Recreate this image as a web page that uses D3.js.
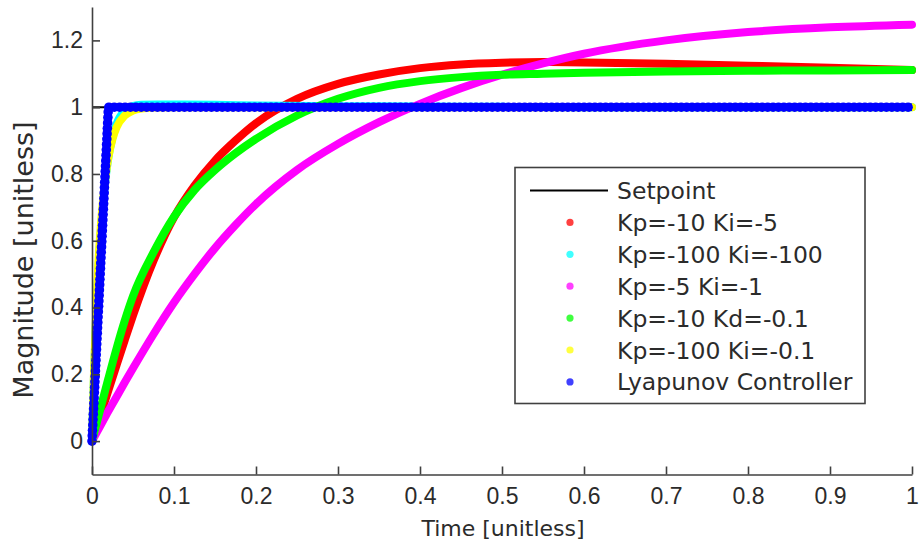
<!DOCTYPE html>
<html>
<head>
<meta charset="utf-8">
<script src="https://cdn.jsdelivr.net/npm/d3@7"></script>
<style>
  html, body { margin: 0; padding: 0; background: #fff; }
  svg { display: block; }
</style>
</head>
<body>
<svg id="chart" width="922" height="547"></svg>
<script>
// ---------------- DATA ----------------
const xTicks = [0, 0.1, 0.2, 0.3, 0.4, 0.5, 0.6, 0.7, 0.8, 0.9, 1];
const yTicks = [0, 0.2, 0.4, 0.6, 0.8, 1, 1.2];

const seriesNames = ["Setpoint", "Kp=-10 Ki=-5", "Kp=-100 Ki=-100", "Kp=-5 Ki=-1",
                     "Kp=-10 Kd=-0.1", "Kp=-100 Ki=-0.1", "Lyapunov Controller"];
const seriesColors = ["#000000", "#ff0000", "#00ffff", "#ff00ff", "#00ff00", "#ffff00", "#0000ff"];

// slow responses, common time grid
const tSlow = [0, 0.01, 0.02, 0.03, 0.04, 0.05, 0.075, 0.1, 0.125, 0.15, 0.175, 0.2,
               0.25, 0.3, 0.35, 0.4, 0.45, 0.5, 0.55, 0.6, 0.7, 0.8, 0.9, 1.0];
const redVals = [0, 0.075, 0.152, 0.228, 0.303, 0.376, 0.54, 0.67, 0.765, 0.84, 0.9, 0.952,
                 1.025, 1.07, 1.098, 1.117, 1.128, 1.133, 1.135, 1.134, 1.13, 1.124, 1.118, 1.111];
const magentaVals = [0, 0.045, 0.09, 0.133, 0.176, 0.218, 0.32, 0.415, 0.5, 0.578, 0.647, 0.71,
                     0.812, 0.89, 0.955, 1.01, 1.057, 1.097, 1.131, 1.16, 1.2, 1.225, 1.239, 1.247];
const greenVals = [0, 0.095, 0.188, 0.278, 0.361, 0.434, 0.565, 0.672, 0.752, 0.812, 0.862, 0.905,
                   0.975, 1.025, 1.058, 1.078, 1.09, 1.097, 1.1, 1.103, 1.107, 1.109, 1.11, 1.111];

// fast responses, finer time grid near zero
const tFast = [0, 0.0025, 0.005, 0.0075, 0.01, 0.015, 0.02, 0.025, 0.03, 0.04, 0.05, 0.06,
               0.08, 0.1, 0.15, 0.2, 0.3, 0.4, 0.5, 0.6, 0.7, 0.8, 0.9, 1.0];
const cyanVals = [0, 0.2, 0.37, 0.5, 0.6, 0.75, 0.85, 0.91, 0.95, 0.99, 1.003, 1.007,
                  1.008, 1.008, 1.007, 1.005, 1.003, 1.002, 1.001, 1.0, 1.0, 1.0, 1.0, 1.0];
const yellowVals = [0, 0.21, 0.38, 0.52, 0.62, 0.76, 0.85, 0.905, 0.94, 0.975, 0.99, 0.996,
                    0.999, 1.0, 1.0, 1.0, 1.0, 1.0, 1.0, 1.0, 1.0, 1.0, 1.0, 1.0];

// Lyapunov controller: linear ramp then hold
const tBlue = [0, 0.02, 1.0];
const blueVals = [0, 1.0, 1.0];

// setpoint
const tSet = [0, 1];
const setVals = [1, 1];

// ---------------- CHART ----------------
const svg = d3.select("#chart");
const x = d3.scaleLinear().domain([0, 1]).range([92, 912]);
const y = d3.scaleLinear().domain([-0.1, 1.3]).range([474.5, 7]);

const axisColor = "#404040";
const textColor = "#2b2b2b";

const zip = (ts, vs) => ts.map((t, i) => [t, vs[i]]);
const lineSmooth = d3.line().x(d => x(d[0])).y(d => y(d[1])).curve(d3.curveMonotoneX);
const lineStraight = d3.line().x(d => x(d[0])).y(d => y(d[1]));

const gLines = svg.append("g");

// setpoint (underneath)
gLines.append("path").attr("d", lineStraight(zip(tSet, setVals)))
  .attr("fill", "none").attr("stroke", seriesColors[0]).attr("stroke-width", 2);

const curves = [
  {t: tSlow, v: redVals, c: seriesColors[1]},
  {t: tFast, v: cyanVals, c: seriesColors[2]},
  {t: tSlow, v: magentaVals, c: seriesColors[3]},
  {t: tSlow, v: greenVals, c: seriesColors[4]},
  {t: tFast, v: yellowVals, c: seriesColors[5]}
];
curves.forEach(s => {
  gLines.append("path").attr("d", lineSmooth(zip(s.t, s.v)))
    .attr("fill", "none").attr("stroke", s.c).attr("stroke-width", 8)
    .attr("stroke-linejoin", "round").attr("stroke-linecap", "round");
});

// blue: thick line made of markers
const bluePath = gLines.append("path").attr("d", lineStraight(zip(tBlue, blueVals)))
  .attr("fill", "none").attr("stroke", seriesColors[6]).attr("stroke-width", 7.5)
  .attr("stroke-linejoin", "round");
const bp = bluePath.node();
const L = bp.getTotalLength();
for (let s = 0; s <= L; s += 5.4) {
  const p = bp.getPointAtLength(s);
  gLines.append("circle").attr("cx", p.x).attr("cy", p.y).attr("r", 4.8)
    .attr("fill", seriesColors[6]);
}

// axes
const xAxis = d3.axisBottom(x).tickValues(xTicks).tickSizeInner(-8).tickSizeOuter(0)
  .tickPadding(13).tickFormat(d3.format("~g"));
const yAxis = d3.axisLeft(y).tickValues(yTicks).tickSizeInner(-8).tickSizeOuter(0)
  .tickPadding(9).tickFormat(d3.format("~g"));

const gx = svg.append("g").attr("transform", "translate(0,474.5)").call(xAxis);
const gy = svg.append("g").attr("transform", "translate(92,0)").call(yAxis);
[gx, gy].forEach(g => {
  g.select(".domain").attr("stroke", axisColor).attr("stroke-width", 1.6);
  g.selectAll(".tick line").attr("stroke", axisColor).attr("stroke-width", 1.6);
  g.selectAll(".tick text").attr("fill", textColor)
    .style("font-family", "'Liberation Sans', Arial, sans-serif").style("font-size", "23px");
});

// axis titles
svg.append("text").attr("x", 503).attr("y", 536).attr("text-anchor", "middle")
  .attr("fill", textColor).style("font-family", "'DejaVu Sans', sans-serif").style("font-size", "22px")
  .text("Time [unitless]");
svg.append("text").attr("transform", "translate(33,260) rotate(-90)").attr("text-anchor", "middle")
  .attr("fill", textColor).style("font-family", "'DejaVu Sans', sans-serif").style("font-size", "27px")
  .text("Magnitude [unitless]");

// legend
const lg = svg.append("g");
lg.append("rect").attr("x", 515).attr("y", 167.5).attr("width", 350).attr("height", 236)
  .attr("fill", "#fff").attr("stroke", axisColor).attr("stroke-width", 1.6);
seriesNames.forEach((name, i) => {
  const base = 199 + i * 31.9;
  const cy = base - 8.5;
  if (i === 0) {
    lg.append("line").attr("x1", 530).attr("x2", 608).attr("y1", cy).attr("y2", cy)
      .attr("stroke", seriesColors[0]).attr("stroke-width", 2);
  } else {
    lg.append("circle").attr("cx", 570).attr("cy", cy).attr("r", 3.6)
      .attr("fill", seriesColors[i]).attr("opacity", 0.75);
  }
  lg.append("text").attr("x", 617).attr("y", base).attr("fill", textColor)
    .style("font-family", "'DejaVu Sans', sans-serif").style("font-size", "23.5px")
    .text(name);
});
</script>
</body>
</html>
